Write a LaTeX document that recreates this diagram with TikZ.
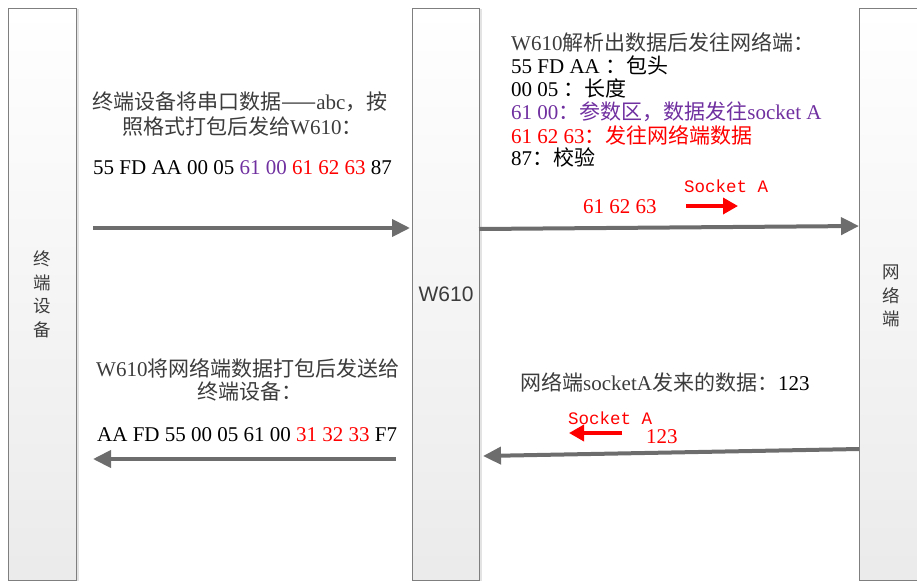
\documentclass[tikz,border=0pt]{standalone}
\usepackage{fontspec}
\setmainfont{Liberation Serif}
\newfontfamily\cjk{Noto Sans CJK SC}
\newfontfamily\arialf{Liberation Sans}
\newfontfamily\monof{Liberation Mono}
\usetikzlibrary{arrows.meta,shadows}
\definecolor{barline}{HTML}{7F7F7F}
\definecolor{arrgray}{HTML}{6D6D6D}
\definecolor{tpurple}{HTML}{7030A0}
\definecolor{tred}{HTML}{FF0000}
\definecolor{tgray}{HTML}{3C3C3C}
\newcommand{\zh}[1]{{\cjk #1}}
\begin{document}
\begin{tikzpicture}[x=1pt,y=-1pt,
  bar/.style={draw=barline, line width=1pt, top color=white, bottom color=black!8,
    anchor=north west, inner sep=0, minimum height=572pt,
    drop shadow={shadow xshift=2.5pt, shadow yshift=0pt, opacity=0.18, fill=black!60}},
  barlbl/.style={align=center, text=tgray, font=\cjk\fontsize{17.5}{23.5}\selectfont},
  garrow/.style={draw=arrgray, line width=4pt, -{Triangle[length=18pt,width=17pt]}},
  rarrow/.style={draw=tred, line width=3.5pt, -{Triangle[length=15pt,width=16pt]}},
  txt/.style={inner sep=0, anchor=west, font=\fontsize{21}{24}\selectfont},
  rtxt/.style={inner sep=0, anchor=west, font=\fontsize{21}{23}\selectfont},
  sock/.style={inner sep=0, anchor=west, text=tred, font=\monof\fontsize{17.5}{20}\selectfont}
]
\clip (0,0) rectangle (917,581);
\useasboundingbox (0,0) rectangle (917,581);

% bars
\node[bar, minimum width=68pt] (term) at (8,8) {};
\node[bar, minimum width=67pt] (mid) at (412,8) {};
\node[bar, minimum width=68pt] (net) at (859,8) {};
\node[barlbl] (termlbl) at (term.center) {终\\端\\设\\备};
\node[inner sep=0, text=tgray, font=\arialf\fontsize{21}{24}\selectfont] (midlbl) at (mid.center) {W610};
\node[barlbl] (netlbl) at (891,296) {网\\络\\端};

% arrow anchors
\coordinate (a1s) at (93,228);
\coordinate (a1e) at (410,228);
\coordinate (a2s) at (479,229);
\coordinate (a2e) at (859,226);
\coordinate (a3s) at (859,449);
\coordinate (a3e) at (483,456);
\coordinate (a4s) at (396,459);
\coordinate (a4e) at (93,459);
\draw[garrow] (a1s) -- (a1e);
\draw[garrow] (a2s) -- (a2e);
\draw[garrow] (a3s) -- (a3e);
\draw[garrow] (a4s) -- (a4e);

% top-left text
\node[txt, text=tgray] (tl1) at (92,102) {\zh{终端设备将串口数据——}abc\zh{，按}};
\node[txt, text=tgray] (tl2) at (122,127) {\zh{照格式打包后发给}W610\zh{：}};
\node[txt] (tl3) at (93,168) {55 FD AA 00 05 \textcolor{tpurple}{61 00} \textcolor{tred}{61 62 63} 87};

% top-right text
\node[rtxt, text=tgray] (tr1) at (511,42) {W610\zh{解析出数据后发往网络端：}};
\node[rtxt] (tr2) at (511,65) {55 FD AA \zh{：包头}};
\node[rtxt] (tr3) at (511,88) {00 05 \zh{：长度}};
\node[rtxt, text=tpurple] (tr4) at (511,112) {61 00\zh{：参数区，数据发往}socket A};
\node[rtxt, text=tred] (tr5) at (511,135) {61 62 63\zh{：发往网络端数据}};
\node[rtxt] (tr6) at (511,157) {87\zh{：校验}};

\node[sock] (sk1) at (684,186) {Socket A};
\node[txt, text=tred] (d1) at (583,207) {61 62 63};
\coordinate (r1s) at (686,206);
\coordinate (r1e) at (738,206);
\draw[rarrow] (r1s) -- (r1e);

% bottom-right text
\node[txt, text=tgray] (br1) at (520,382) {\zh{网络端}socketA\zh{发来的数据：}\textcolor{black}{123}};
\node[sock] (sk2) at (568,418) {Socket A};
\node[txt, text=tred] (d2) at (646,437) {123};
\coordinate (r2s) at (622,433);
\coordinate (r2e) at (569,433);
\draw[rarrow] (r2s) -- (r2e);

% bottom-left text
\node[txt, text=tgray] (bl1) at (96,368) {W610\zh{将网络端数据打包后发送给}};
\node[txt, text=tgray] (bl2) at (197,392) {\zh{终端设备：}};
\node[txt] (bl3) at (97,435) {AA FD 55 00 05 61 00 \textcolor{tred}{31 32 33} F7};
\end{tikzpicture}
\end{document}
